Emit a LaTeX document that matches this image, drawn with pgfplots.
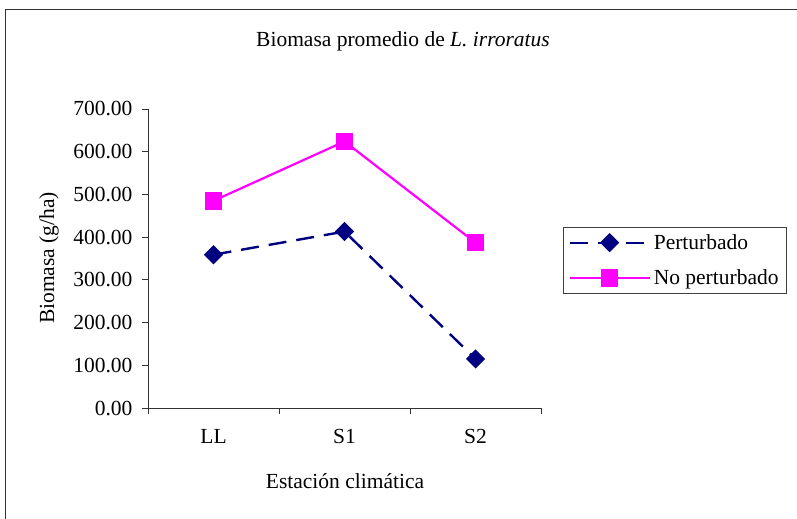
\documentclass[border=0pt]{standalone}
\usepackage{fontspec}
\setmainfont{Liberation Serif}
\usepackage{pgfplots}
\pgfplotsset{compat=1.18}

\definecolor{pnavy}{RGB}{0,0,128}
\definecolor{pmag}{RGB}{255,0,255}

\newcommand{\chartfont}{\fontsize{21.5bp}{25bp}\selectfont}

\begin{document}
\begin{tikzpicture}
  % page area and outer chart frame
  \useasboundingbox (0,0) rectangle (797bp,-519bp);
  \draw[line width=1bp, black!80] (5bp,-519bp) -- (5bp,-9bp) -- (797bp,-9bp);

  % title and axis titles
  \node[font=\chartfont] at (403bp,-41bp) {Biomasa promedio de \textit{L. irroratus}};
  \node[font=\chartfont, rotate=90] at (49bp,-258bp) {Biomasa (g/ha)};
  \node[font=\chartfont] at (345bp,-481bp) {Estación climática};

  \begin{axis}[
    at={(148bp,-408bp)}, anchor=origin,
    scale only axis,
    width=393bp, height=299bp,
    xmin=0.5, xmax=3.5,
    ymin=0, ymax=700,
    axis x line*=bottom, axis y line*=left,
    axis line style={line width=0.9bp, black!80},
    xtick={1,2,3},
    xticklabels={LL,S1,S2},
    major x tick style={draw=none},
    minor xtick={0.5,1.5,2.5,3.5},
    minor tick length=6bp,
    minor x tick style={line width=0.9bp, black!80},
    ytick={0,100,...,700},
    major tick length=6bp,
    tick align=outside,
    y tick style={line width=0.9bp, black!80},
    tick label style={font=\chartfont},
    xticklabel style={yshift=-12bp},
    yticklabel style={xshift=-6bp, /pgf/number format/.cd, fixed, fixed zerofill, precision=2, assume math mode=true},
    legend style={
      at={(1.056,0.605)}, anchor=north west,
      draw=black!75, line width=0.8bp,
      font=\chartfont,
      inner xsep=5bp, inner ysep=7bp,
      row sep=19bp,
      nodes={inner xsep=3bp, inner ysep=0bp},
      legend cell align=left,
    },
    legend image code/.code={%
      \draw[mark repeat=2, mark phase=2, #1]
        plot coordinates {(0bp,0bp) (40bp,0bp) (80bp,0bp)};},
  ]
    \addplot[pnavy, line width=2.4bp, dash pattern=on 18bp off 10bp,
             mark=square*, mark size=5.6bp,
             mark options={solid, rotate=45, fill=pnavy}]
      coordinates {(1,359) (2,413) (3,115)};
    \addlegendentry{Perturbado}
    \addplot[pmag, line width=2.2bp,
             mark=square*, mark size=7.6bp,
             mark options={solid, fill=pmag}]
      coordinates {(1,485) (2,624) (3,387)};
    \addlegendentry{No perturbado}
  \end{axis}
\end{tikzpicture}
\end{document}
